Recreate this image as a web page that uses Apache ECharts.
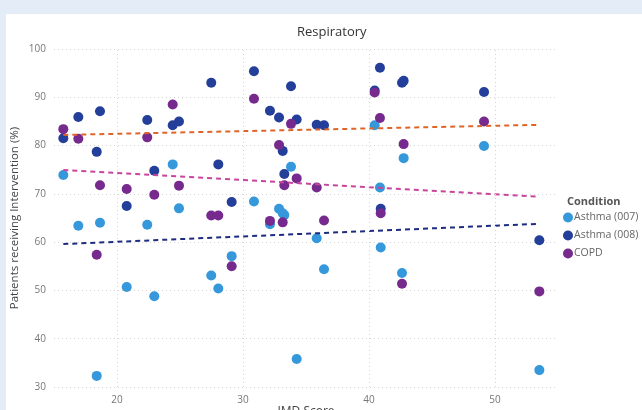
<!DOCTYPE html>
<html><head><meta charset="utf-8">
<script src="https://cdn.jsdelivr.net/npm/echarts@6/dist/echarts.min.js"></script>
<style>html,body{margin:0;padding:0;background:#e4edf7}#c{width:642px;height:410px}</style>
</head><body><div id="c"></div>
<script>
// IMD scores (x) per area
const imd = [15.74,16.93,18.39,18.65,20.77,22.40,22.96,24.42,24.92,27.48,28.04,29.10,30.87,32.14,32.86,33.15,33.28,33.81,34.26,35.85,36.43,40.45,40.87,40.93,42.62,42.75,49.13,53.52];
const asthma007 = [73.9,63.4,32.3,64.0,50.7,63.6,48.8,76.1,67.0,53.1,50.4,57.1,68.4,63.7,66.9,66.0,65.6,75.6,35.8,60.8,54.4,84.2,71.3,58.9,53.6,77.4,79.9,33.5];
const asthma008 = [81.5,85.9,78.7,87.1,67.5,85.3,74.8,84.2,85.0,93.0,76.1,68.3,95.4,87.2,85.8,78.9,74.1,92.3,85.4,84.3,84.2,91.4,96.1,66.9,93.0,93.4,91.1,60.4];
const copd      = [83.4,81.4,57.4,71.8,71.0,81.7,69.8,88.5,71.7,65.5,65.5,55.0,89.7,64.4,80.1,64.1,71.8,84.5,73.2,71.3,64.5,91.0,85.7,66.0,51.4,80.3,85.0,49.8];
// trend line endpoints
const trendX = [15.74, 53.52];
const trend007 = [59.6, 63.8];
const trend008 = [82.2, 84.3];
const trendCOPD = [74.95, 69.4];
const yTicks = [30,40,50,60,70,80,90,100];
const xTicks = [20,30,40,50];

const pair = (xs, ys) => xs.map((x,i)=>[x, ys[i]]);
const FONT = '"Segoe UI","Open Sans","Noto Sans",sans-serif';
const chart = echarts.init(document.getElementById('c'));
const gridLine = {show:true, lineStyle:{color:'#d4d4d4', type:[1,3], width:1}};
chart.setOption({
  backgroundColor:'#e4edf7',
  animation:false,
  graphic:[{type:'rect', left:6, top:14, shape:{width:640, height:400}, style:{fill:'#ffffff'}, z:-10}],
  title:[
    {text:'Respiratory', left:292, top:21, textStyle:{fontFamily:FONT, fontSize:13, fontWeight:'normal', color:'#333'}},
    {text:'Condition', left:562, top:191, textStyle:{fontFamily:FONT, fontSize:11, fontWeight:'bold', color:'#555'}}
  ],
  legend:{
    data:['Asthma (007)','Asthma (008)','COPD'],
    orient:'vertical', left:558, top:207, itemGap:7,
    icon:'circle', itemWidth:10, itemHeight:10,
    textStyle:{fontFamily:FONT, fontSize:10.5, color:'#666', padding:[0,0,0,-4]}
  },
  grid:{left:54, right:84, top:49, bottom:23, outerBoundsMode:'none', containLabel:false},
  xAxis:{
    type:'value', min:15, max:55, interval:5,
    name:'IMD Score', nameLocation:'middle', nameGap:19, nameMoveOverlap:false,
    nameTextStyle:{fontFamily:FONT, fontSize:12, color:'#444'},
    axisLine:{show:false}, axisTick:{show:false},
    axisLabel:{fontFamily:FONT, fontSize:10, color:'#777', margin:8,
      formatter:v=>xTicks.includes(v)?String(v):''},
    splitLine:{show:false}
  },
  yAxis:{
    type:'value', min:30, max:100, interval:10,
    name:'Patients receiving Intervention (%)', nameLocation:'middle', nameGap:33, nameMoveOverlap:false,
    nameTextStyle:{fontFamily:FONT, fontSize:11.5, color:'#444'},
    axisLine:{show:false}, axisTick:{show:false},
    axisLabel:{fontFamily:FONT, fontSize:10, color:'#777', margin:8, formatter:v=>yTicks.includes(v)?String(v):''},
    splitLine:gridLine
  },
  series:[
    {type:'line', data:xTicks.map(v=>[v,30]), silent:true, showSymbol:false, lineStyle:{width:0},
     markLine:{silent:true, symbol:'none', label:{show:false}, lineStyle:{color:'#d4d4d4', type:[1,3], width:1},
       data:xTicks.map(v=>({xAxis:v}))}},
    {name:'Asthma (007)', type:'scatter', symbolSize:10, itemStyle:{color:'#3598db', opacity:1}, data:pair(imd, asthma007), z:3},
    {name:'Asthma (008)', type:'scatter', symbolSize:10, itemStyle:{color:'#233f9a', opacity:1}, data:pair(imd, asthma008), z:3},
    {name:'COPD', type:'scatter', symbolSize:10, itemStyle:{color:'#762a8d', opacity:1}, data:pair(imd, copd), z:3},
    {name:'t007', type:'line', showSymbol:false, data:pair(trendX, trend007), lineStyle:{color:'#1e2c80', width:2, type:[5,4]}, z:4},
    {name:'t008', type:'line', showSymbol:false, data:pair(trendX, trend008), lineStyle:{color:'#df6428', width:2, type:[5,4]}, z:4},
    {name:'tCOPD', type:'line', showSymbol:false, data:pair(trendX, trendCOPD), lineStyle:{color:'#c9449c', width:2, type:[5,4]}, z:4}
  ]
});
</script></body></html>
